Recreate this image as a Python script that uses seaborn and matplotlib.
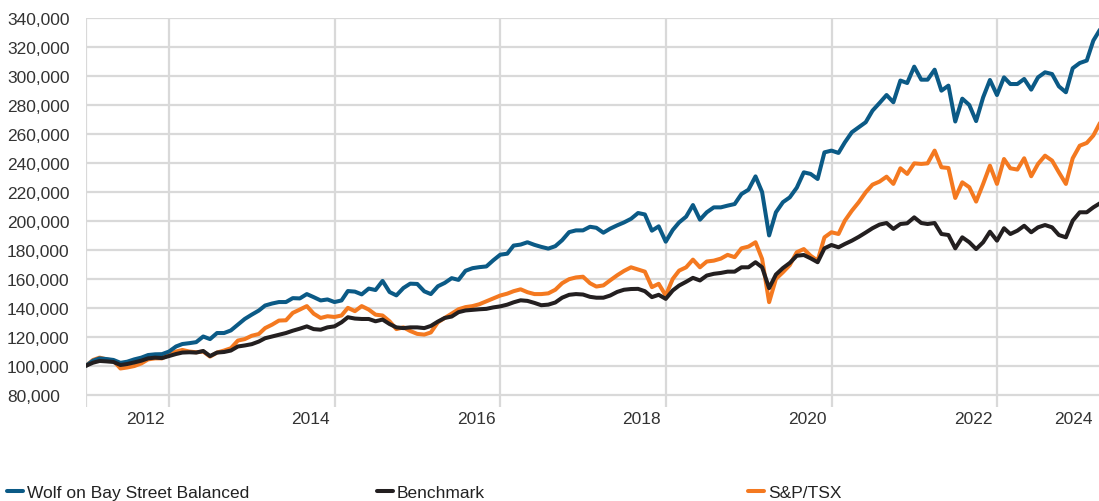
import pandas as pd
import seaborn as sns
import matplotlib.pyplot as plt
from matplotlib.lines import Line2D

# month-end values, in thousands of dollars (growth of 100,000)
dates = pd.date_range('2012-01-01', periods=148, freq='MS') - pd.Timedelta(days=1)

wolf = [100, 103.5, 105.1, 104.6, 104, 102, 102.8, 104.4, 105.6, 107.4,
        107.9, 108, 109.8, 113.3, 115, 115.6, 116.3, 120.2, 118.4, 122.6,
        122.6, 124.4, 128.4, 132.3, 135.3, 138.1, 141.6, 143, 144, 144,
        146.7, 146.5, 149.5, 147.4, 145.1, 145.8, 144, 145.1, 151.6, 151.2,
        149.3, 153.3, 152.3, 158.6, 150.9, 148.6, 153.7, 156.7, 156.5, 151.4,
        149.5, 154.9, 157.2, 160.5, 159.3, 165.6, 167.4, 168.1, 168.6, 172.8,
        176.7, 177.4, 183, 183.7, 185.3, 183.5, 182.1, 180.9, 182.6, 186.7,
        192.3, 193.5, 193.5, 196, 195.3, 191.9, 194.7, 197, 199, 201.5,
        205.5, 204.5, 193.3, 196.3, 185.7, 193.8, 199, 203, 211, 200.9,
        206, 209.4, 209.4, 210.6, 211.7, 218.6, 221.6, 230.8, 220, 190,
        206, 213, 216.3, 223, 233.6, 232.5, 229, 247.4, 248.6, 247,
        254.3, 261.3, 264.7, 268.2, 276.2, 281.5, 287, 282, 297, 295.3,
        306.6, 297.6, 297.6, 304.5, 290, 293.5, 268.7, 284.5, 280.1, 269,
        285.4, 297.4, 287, 299.2, 294.6, 294.6, 298.1, 290.7, 299.2, 302.7,
        301.5, 293, 288.9, 305.5, 309.1, 310.8, 324.6, 332.6]

tsx = [100, 104, 105.6, 104.4, 103.5, 98.1, 98.8, 99.8, 101.6, 104.4,
       105.1, 105.1, 107.4, 109.8, 110.9, 109.8, 109.3, 109.8, 106.3, 109.1,
       110.5, 112.1, 117.4, 118.4, 120.7, 121.9, 126, 128.4, 131.2, 131.4,
       136.5, 138.8, 141.2, 136, 133, 134.2, 133.7, 134.7, 140, 137.7,
       141.2, 138.8, 135.3, 134.7, 130.7, 125.3, 126.5, 124, 122, 121.5,
       123, 130, 133, 136, 139, 140.5, 141.2, 142.5, 144.5, 146.5,
       148.5, 149.8, 151.5, 152.8, 150.8, 149.5, 149.5, 150, 152.5, 157,
       159.8, 161, 161.5, 157, 154.7, 155.5, 159, 162.5, 165.5, 168,
       166.5, 165, 154.3, 156.6, 148.5, 160, 165.7, 168, 173.3, 168,
       172, 172.6, 174, 176.6, 175, 181.1, 182.3, 185.3, 173.8, 143.9,
       160, 164.6, 169.5, 178.4, 180.6, 176, 172.6, 188.7, 192.2, 191,
       200.2, 207.1, 212.9, 219.8, 225.1, 227.2, 230.6, 225.6, 236.4, 232.5,
       239.8, 239.4, 239.8, 248.6, 237.1, 236.6, 215.9, 226.7, 223.3, 213.4,
       225.6, 238.2, 225.6, 242.8, 236.4, 235.5, 243.3, 230.9, 239.4, 245.1,
       241.7, 233.6, 225.6, 243.3, 252, 253.9, 259, 268.2]

bench = [100, 102.1, 103.3, 103, 102.6, 100.5, 101.2, 102.3, 103.5, 105.1,
         105.6, 105.3, 106.7, 108.1, 109.1, 109.3, 109.1, 110.2, 106.7, 109.1,
         109.5, 110.5, 113.3, 114, 114.9, 116.7, 119, 120.2, 121.4, 122.6,
         124.2, 125.6, 127.2, 125.3, 124.9, 126.5, 127.2, 130, 133.5, 132.6,
         132.3, 132.3, 130.7, 131.9, 128.8, 126.5, 126, 126.5, 126.5, 126,
         127.5, 130.5, 133, 134, 137, 138.2, 138.6, 139, 139.3, 140.3,
         141, 142.2, 143.8, 145.2, 144.8, 143.4, 141.8, 142.2, 143.7, 147,
         149, 149.5, 149.2, 147.6, 147, 147, 148.5, 151, 152.5, 153,
         153.1, 151.5, 147.4, 149, 146.2, 152, 155.4, 158, 160.7, 158.9,
         162.3, 163.5, 164.1, 165, 165, 168, 168, 171.5, 168, 153.6,
         163, 167.5, 171, 176, 176.5, 174.2, 171.5, 181.1, 183.4, 181.8,
         184.1, 186.4, 189, 192, 195, 197.5, 198.6, 194.5, 197.9, 198.4,
         202.5, 198.6, 197.9, 198.6, 191, 190.3, 181.1, 188.7, 185.3, 180.6,
         185.3, 192.6, 186.4, 195, 191, 193.3, 196.7, 192.2, 195.6, 197.2,
         195.6, 190.3, 188.7, 200.2, 206, 206, 209.4, 212.4]

series_names = ['Wolf on Bay Street Balanced', 'Benchmark', 'S&P/TSX']
colors = {'Wolf on Bay Street Balanced': '#0b5a86',
          'Benchmark': '#231f20',
          'S&P/TSX': '#f47920'}

grid_dates = pd.to_datetime(['2011-12-31', '2013-01-01', '2015-01-01', '2017-01-01',
                             '2019-01-01', '2021-01-01', '2023-01-01'])
label_dates = pd.to_datetime(['2012-09-17', '2014-09-17', '2016-09-17', '2018-09-17',
                              '2020-09-17', '2022-09-17', '2023-12-01'])
year_labels = ['2012', '2014', '2016', '2018', '2020', '2022', '2024']
y_ticks = [80000, 100000, 120000, 140000, 160000, 180000, 200000, 220000,
           240000, 260000, 280000, 300000, 320000, 340000]

df = pd.DataFrame({'date': dates, series_names[0]: wolf,
                   series_names[1]: bench, series_names[2]: tsx})
long_df = df.melt('date', var_name='series', value_name='value')
long_df['value'] = long_df['value'] * 1000

sns.set_style('white')
plt.rcParams['font.family'] = ['Liberation Sans', 'DejaVu Sans']

fig = plt.figure(figsize=(10.99, 5.02), dpi=100)
ax = fig.add_axes([86 / 1099, 94 / 502, 1 - 86 / 1099, 388.7 / 502])

sns.lineplot(data=long_df, x='date', y='value', hue='series',
             hue_order=['S&P/TSX', 'Wolf on Bay Street Balanced', 'Benchmark'],
             palette=colors, linewidth=2.9, legend=False, ax=ax)

ax.set_xlim(pd.Timestamp('2011-12-31'), pd.Timestamp('2024-03-25'))
ax.set_ylim(71500, 340000)
ax.set_xlabel('')
ax.set_ylabel('')
for s in ax.spines.values():
    s.set_visible(False)

grid_col = '#d9d9d9'
ax.set_yticks(y_ticks)
ax.set_yticklabels([f'{v:,}' for v in y_ticks])
ax.set_xticks(grid_dates)
ax.set_xticklabels([''] * len(grid_dates))
ax.set_xticks(label_dates, minor=True)
ax.set_xticklabels(year_labels, minor=True)
ax.grid(True, which='major', color=grid_col, linewidth=1.6)
ax.set_axisbelow(True)

ax.tick_params(axis='y', length=11.5, width=1.6, color=grid_col, pad=45.4,
               labelsize=12.5, labelcolor='#333333')
for lbl in ax.get_yticklabels():
    lbl.set_horizontalalignment('left')
ax.tick_params(axis='x', which='both', length=0, pad=3, labelsize=12.5,
               labelcolor='#333333')

legend_x = [7, 377, 748]
for name, x in zip(series_names, legend_x):
    h = Line2D([], [], color=colors[name], linewidth=2.9)
    fig.legend([h], [name], loc='center left', bbox_to_anchor=(x / 1099, 9 / 502),
               frameon=False, handlelength=0.9, handletextpad=0.25, borderpad=0,
               borderaxespad=0, fontsize=12.5, labelcolor='#222222')

fig.savefig('out.png', dpi=100)
